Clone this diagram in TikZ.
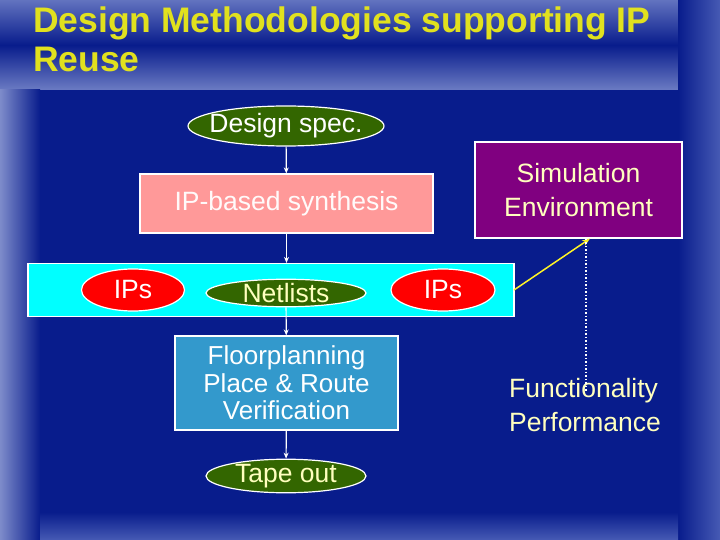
\documentclass[tikz,border=0pt]{standalone}
\usepackage{fontspec}
\setmainfont{Liberation Sans}
\usetikzlibrary{shapes.geometric,arrows.meta}
\definecolor{bgout}{RGB}{70,90,180}
\definecolor{bgin}{RGB}{8,28,140}
\definecolor{ttl}{RGB}{225,225,30}
\definecolor{gr}{RGB}{51,102,0}
\definecolor{salmon}{RGB}{255,153,153}
\definecolor{purp}{RGB}{128,0,128}
\definecolor{cy}{RGB}{0,255,255}
\definecolor{blu}{RGB}{51,153,204}
\definecolor{lyel}{RGB}{255,255,190}
\begin{document}
\begin{tikzpicture}[x=1pt,y=-1pt,
  txt/.style={font=\fontsize{26.5}{28}\selectfont},
  oval/.style={ellipse,draw=white,line width=1.2pt,inner sep=0pt,inner xsep=-14pt,txt},
  boxs/.style={rectangle,draw=white,line width=1.2pt,txt,align=center,inner sep=0pt},
  arr/.style={white,line width=1.2pt,-{Stealth[length=6pt,width=5pt]}}]
\useasboundingbox (0,0) rectangle (720,540);
\fill[bgout] (0,0) rectangle (720,540);
\shade[top color=bgout!85!white,bottom color=bgout!80!white,middle color=bgin] (0,0) rectangle (678,90);
\shade[left color=bgout!70!white,right color=bgin] (0,90) rectangle (40,540);
\shade[left color=bgin,right color=bgout] (678,0) rectangle (720,540);
\fill[bgin] (40,90) rectangle (678,512);
\shade[top color=bgin,bottom color=bgout] (40,512) rectangle (678,540);
\node[anchor=north west,align=left,text=ttl,font=\fontsize{35.5}{39}\selectfont\bfseries,inner sep=0pt] (title) at (33,7) {Design Methodologies supporting IP\\Reuse};
\node[oval,fill=gr,text=white,minimum width=196pt,minimum height=40pt] (spec) at (286,126) {Design spec.};
\node[boxs,fill=salmon,text=white!95!salmon,minimum width=293pt,minimum height=59pt] (synth) at (286.5,203.5) {IP-based synthesis};
\node[boxs,fill=purp,text=lyel,minimum width=207pt,minimum height=96pt,font=\fontsize{26.5}{34}\selectfont] (sim) at (578.5,190) {Simulation\\Environment};
\node[boxs,fill=cy,minimum width=486pt,minimum height=53pt] (band) at (271,290) {};
\node[oval,fill=red,text=white,minimum width=103pt,minimum height=42pt] (ip1) at (133,290) {IPs};
\node[oval,fill=gr,text=lyel,minimum width=160pt,minimum height=25pt] (net) at (286,293) {Netlists};
\node[oval,fill=red,text=white,minimum width=104pt,minimum height=42pt] (ip2) at (443,290) {IPs};
\node[boxs,fill=blu,text=white,minimum width=223pt,minimum height=94pt,font=\fontsize{26}{27.5}\selectfont] (fp) at (286.5,383) {Floorplanning\\Place \& Route\\Verification};
\node[oval,fill=gr,text=lyel,minimum width=160pt,minimum height=24pt] (tape) at (286,476) {Tape out};
\node[txt,text=lyel,align=left,font=\fontsize{26.5}{34}\selectfont] (func) at (585,405) {Functionality\\Performance};
\draw[arr] (spec) -- (synth);
\draw[arr] (synth) -- (band.north -| synth);
\draw[arr] (net) -- (fp);
\draw[arr] (fp) -- (tape);
\coordinate (bandR) at (514,290);
\draw[yellow!85!white,line width=1.5pt,-{Stealth[length=8pt,width=6pt]}] (bandR) -- (sim.south -| 590,0);
\draw[white,line width=1.5pt,dotted] (sim.south -| 586,0) -- (586,392);
\end{tikzpicture}
\end{document}
